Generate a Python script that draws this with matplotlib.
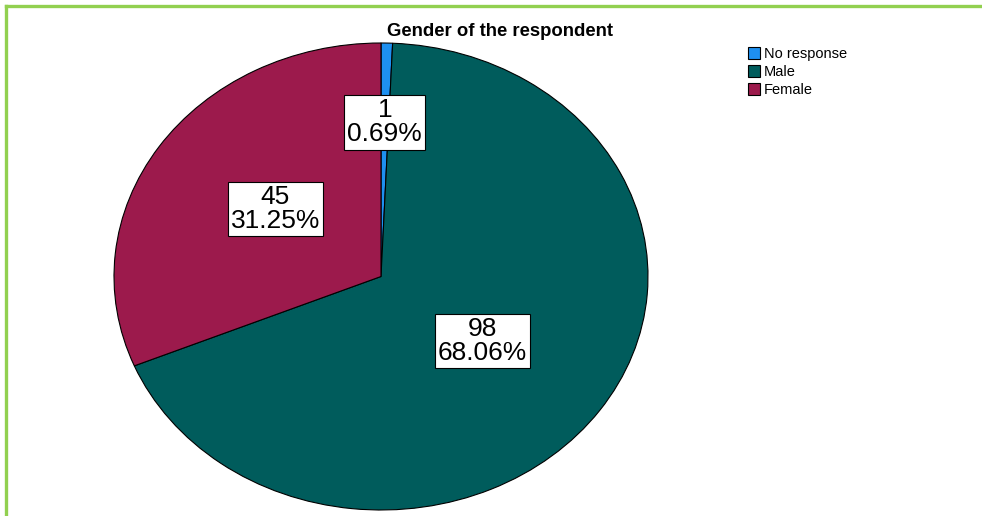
import numpy as np
import matplotlib
matplotlib.use("Agg")
import matplotlib.pyplot as plt
from matplotlib.lines import Line2D

plt.rcParams['font.family'] = ['Liberation Sans', 'DejaVu Sans']

# respondent counts by gender
categories = ["No response", "Male", "Female"]
counts = [1, 98, 45]
percents = [0.69, 68.06, 31.25]

colors = ["#1e90f0", "#005c5c", "#9c1a4c"]
label_radius = [0.66, 0.47, 0.49]
label_shift = [0, -1, -2.5]   # small angular nudge (deg) for the label boxes

fig = plt.figure(figsize=(9.82, 5.16), dpi=100)
fig.patch.set_facecolor("white")

# elliptical pie: the axes box is wider than tall and aspect is left free
ax = fig.add_axes([114 / 982, 6 / 516, 534 / 982, 467 / 516])
wedges, _ = ax.pie(counts, colors=colors, startangle=90, counterclock=False,
                   wedgeprops=dict(edgecolor="black", linewidth=0.8))
ax.set_aspect("auto")
ax.set_xlim(-1, 1)
ax.set_ylim(-1, 1)
ax.axis("off")

for w, n, p, r, s in zip(wedges, counts, percents, label_radius, label_shift):
    mid = np.radians((w.theta1 + w.theta2) / 2 + s)
    ax.text(r * np.cos(mid), r * np.sin(mid), f"{n}\n{p:.2f}%",
            ha="center", va="center", fontsize=19, linespacing=1.0,
            bbox=dict(boxstyle="square,pad=0.12", fc="white", ec="black", lw=0.8))

fig.text(500 / 982, 1 - 31 / 516, "Gender of the respondent", ha="center", va="center",
         fontsize=13.3, fontweight="bold")

leg = fig.legend(wedges, categories, loc="upper left", bbox_to_anchor=(742 / 982, 1 - 41 / 516),
                 frameon=False, fontsize=10.5, handlelength=0.85, handleheight=0.85,
                 handletextpad=0.25, labelspacing=0.28, borderaxespad=0)
for h in leg.legend_handles:
    h.set_linewidth(0.8)

# green frame along top and left edges
fig.add_artist(Line2D([5.5 / 982, 1], [1 - 6 / 516, 1 - 6 / 516], color="#92d050", lw=2.4,
                      transform=fig.transFigure))
fig.add_artist(Line2D([5.5 / 982, 5.5 / 982], [0, 1 - 6 / 516], color="#92d050", lw=2.4,
                      transform=fig.transFigure))

fig.savefig("out.png", dpi=100)
